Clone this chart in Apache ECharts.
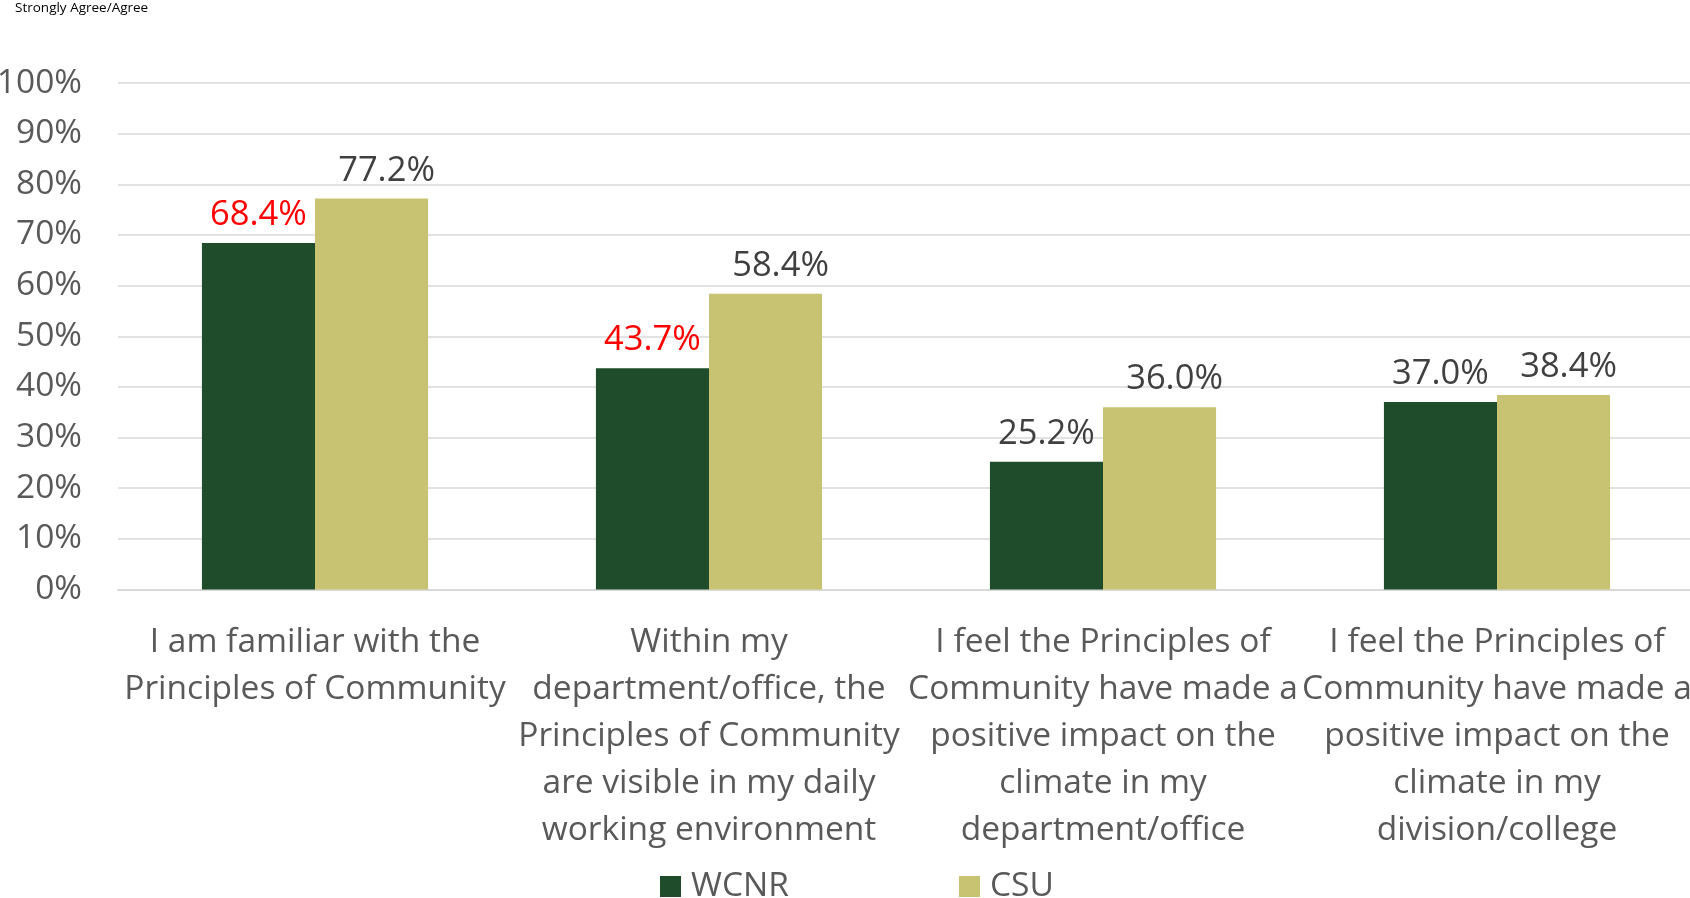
<!DOCTYPE html>
<html>
<head>
<meta charset="utf-8">
<script src="https://cdn.jsdelivr.net/npm/echarts@6/dist/echarts.min.js"></script>
<style>
  html, body { margin: 0; padding: 0; background: #fff; }
  #chart { width: 1690px; height: 898px; }
</style>
</head>
<body>
<div id="chart"></div>
<script>
const categories = [
  'I am familiar with the\nPrinciples of Community',
  'Within my\ndepartment/office, the\nPrinciples of Community\nare visible in my daily\nworking environment',
  'I feel the Principles of\nCommunity have made a\npositive impact on the\nclimate in my\ndepartment/office',
  'I feel the Principles of\nCommunity have made a\npositive impact on the\nclimate in my\ndivision/college'
];
const wcnr = [68.4, 43.7, 25.2, 37.0];
const csu = [77.2, 58.4, 36.0, 38.4];
// WCNR values that fall below CSU by a wide margin are labelled in red
const wcnrHighlight = [true, true, false, false];
const yTicks = { min: 0, max: 100, interval: 10 };

const FONT = 'Open Sans';
const FS = 33.5;
const LABEL_FS = 34.5;
const chart = echarts.init(document.getElementById('chart'), null, { renderer: 'canvas' });

const legendBase = {
  top: 866.5, padding: 0, icon: 'rect',
  itemWidth: 21, itemHeight: 21,
  textStyle: { fontSize: FS, lineHeight: 40, color: '#595959', fontFamily: FONT, padding: [0, 0, 0, 5] }
};

chart.setOption({
  animation: false,
  textStyle: { fontFamily: FONT },
  graphic: [{
    type: 'text', left: 15, top: 1,
    style: { text: 'Strongly Agree/Agree', fontSize: 13.5, fill: '#000', fontFamily: FONT }
  }],
  grid: {
    left: 118, right: -4, top: 83, bottom: 308.5,
    containLabel: false, outerBoundsMode: 'none'
  },
  legend: [
    Object.assign({}, legendBase, { left: 660, data: ['WCNR'] }),
    Object.assign({}, legendBase, { left: 959, data: ['CSU'] })
  ],
  xAxis: {
    type: 'category',
    data: categories,
    axisTick: { show: false },
    axisLine: { lineStyle: { color: '#d9d9d9', width: 2 } },
    axisLabel: {
      interval: 0, hideOverlap: false, margin: 29,
      fontSize: FS, lineHeight: 47, color: '#595959', fontFamily: FONT, align: 'center'
    }
  },
  yAxis: {
    type: 'value', min: yTicks.min, max: yTicks.max, interval: yTicks.interval,
    axisLine: { show: false }, axisTick: { show: false },
    splitLine: { lineStyle: { color: '#d9d9d9', width: 1.5 } },
    axisLabel: {
      formatter: '{value}%', fontSize: FS, color: '#595959', margin: 36, fontFamily: FONT,
      padding: [5, 0, 0, 0]
    }
  },
  series: [
    {
      name: 'WCNR', type: 'bar', barGap: '0%', barCategoryGap: '42.6%',
      itemStyle: { color: '#1f4d2b' },
      data: wcnr.map((v, i) => ({
        value: v,
        label: { color: wcnrHighlight[i] ? '#ff0000' : '#404040' }
      })),
      label: {
        show: true, position: 'top', distance: 10, fontSize: LABEL_FS, fontFamily: FONT,
        formatter: p => p.value.toFixed(1) + '%'
      }
    },
    {
      name: 'CSU', type: 'bar',
      itemStyle: { color: '#c8c372' },
      data: csu,
      label: {
        show: true, position: 'top', distance: 10, offset: [15, 0],
        fontSize: LABEL_FS, fontFamily: FONT, color: '#404040',
        formatter: p => p.value.toFixed(1) + '%'
      }
    }
  ]
});
</script>
</body>
</html>
